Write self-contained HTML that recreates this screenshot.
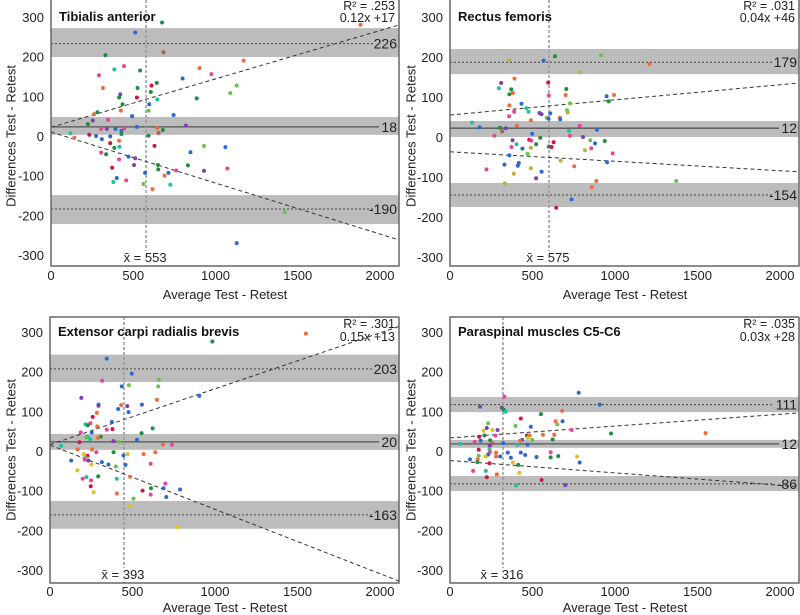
<!DOCTYPE html>
<html><head><meta charset="utf-8"><style>
html,body{margin:0;padding:0;background:#fff}
svg{display:block;font-family:"Liberation Sans",sans-serif}
</style></head><body>
<svg id="c" width="800" height="615" viewBox="0 0 800 615"></svg>
<script>
// ---------- DATA ----------
const colorMap={g:"#1e8f3e",b:"#2a6ad0",o:"#f26a3c",p:"#e8449a",t:"#19c2a0",r:"#d41345",u:"#7b3fb0",l:"#6cc24a",w:"#b06040",v:"#b8b040",y:"#e0c020"};

const tlX=[675,512,1882,331,684,1171,903,385,444,542,975,291,800,643,315,526,611,1129,1090,607,421,886,414,522,646,435,597,425,593,745,493,282,262,254,347,224,820,522,305,339,392,428,444,646,654,680,428,118,142,233,593,274,309,360,414,360,416,629,385,305,335,471,512,930,1060,848,414,505,650,832,652,372,761,930,1072,572,714,690,400,379,457,562,725,617,1421,1129];
const tlY=[286,261,280,204,211,190,171,168,176,165,156,153,145,134,121,121,127,127,108,111,105,95,97,97,92,80,80,64,64,53,50,60,55,39,41,30,26,23,18,18,18,13,19,20,8,15,5,7,-4,3,1,0,-8,-1,-12,-18,-27,-25,-30,-42,-46,-52,-56,-25,-28,-41,-59,-73,-73,-74,-84,-80,-87,-88,-82,-93,-93,-100,-106,-116,-112,-121,-123,-134,-192,-270];
const tlC="gbogwootpg"+"ppbgogrllg"+"uggrtgbolb"+"bgoupgubpu"+"bbpowggtor"+"gbbbortrgp"+"gbulbbpugg"+"grpupbbobt"+"pltolb";

const trX=[915,636,567,360,1209,786,595,310,391,296,371,705,381,360,599,701,949,994,962,727,360,433,462,476,389,709,543,555,608,713,358,585,597,666,668,490,134,786,405,180,304,338,316,721,891,498,269,727,806,547,379,850,480,492,938,879,628,373,403,439,490,599,616,522,856,818,360,470,986,952,670,417,330,411,753,221,490,555,387,522,887,1371,332,859,737,644];
const trY=[205,202,191,192,182,162,136,135,146,122,119,120,110,107,104,105,102,105,89,84,79,83,72,63,63,67,60,57,59,61,52,48,46,48,44,42,36,28,28,24,23,22,14,15,18,8,3,3,0,-2,-8,-8,-7,-9,-10,-16,-13,-25,-18,-29,-27,-24,-25,-18,-28,-33,-46,-42,-41,-63,-59,-65,-69,-72,-73,-81,-78,-87,-92,-103,-110,-110,-116,-125,-156,-177];
const trC="lgbvovruot"+"ggogpobogl"+"obttpluubv"+"pvbobotpob"+"guwtbbppug"+"ulrpgbrptb"+"vgrgpvblpb"+"vbbbopvbvu"+"olvobr";

const blX=[1551,984,344,496,316,660,478,435,656,905,190,648,294,294,557,431,468,413,476,284,259,375,215,245,229,286,379,344,622,253,186,555,308,227,290,219,243,527,385,419,178,684,739,67,168,255,281,385,638,470,445,567,128,227,215,205,211,314,233,354,458,610,399,251,166,292,405,486,198,221,249,699,688,612,788,561,247,265,405,610,705,506,486,772];
const blY=[296,276,233,195,177,180,166,163,163,139,134,129,117,114,117,116,113,106,98,96,86,73,67,70,65,62,55,54,57,47,47,45,36,36,33,34,30,28,25,23,22,16,16,13,4,4,-3,-3,-3,-8,-11,-8,-24,-12,-15,-8,-22,-28,-24,-34,-35,-32,-39,-34,-49,-64,-70,-65,-70,-66,-74,-82,-94,-94,-97,-100,-89,-104,-107,-110,-116,-120,-139,-192];
const blC="ogbbpllblb"+"uobuboubbo"+"rbtpgorpgb"+"pggtoltbul"+"roptoopgoy"+"bobrlypbub"+"bplyygtopt"+"ppbgbrryop"+"blyy";

const brX=[780,330,907,182,314,326,680,338,551,429,682,640,650,231,397,490,223,203,257,288,737,976,1549,209,176,275,466,482,563,632,472,186,243,498,622,437,425,150,257,322,409,470,61,241,239,174,241,610,429,279,241,350,456,231,174,656,215,304,279,369,524,610,770,121,168,166,381,239,786,413,140,217,421,284,223,555,401,699];
const brY=[147,137,117,112,109,104,101,99,93,82,75,75,67,70,63,61,58,51,53,53,53,44,45,39,36,39,39,39,41,41,33,26,27,28,29,28,26,23,19,20,16,16,18,14,5,3,1,-3,-4,-4,-3,-4,-10,-9,-12,-13,-14,-14,-14,-17,-15,-16,-14,-21,-21,-28,-29,-31,-29,-35,-50,-50,-55,-59,-66,-73,-87,-86];
const brC="bpbuugotgr"+"bolllbuyyu"+"pgogrpuooo"+"ybglgbopwb"+"tbtutrlpbo"+"pbbblgybob"+"bgybogyrbg"+"ptyorrtu";

const panelTitles=["Tibialis anterior","Rectus femoris","Extensor carpi radialis brevis","Paraspinal muscles C5-C6"];
const r2Labels=["R² = .253","R² = .031","R² = .301","R² = .035"];
const eqLabels=["0.12x +17","0.04x +46","0.15x +13","0.03x +28"];
const upperBand=[[199,272],[157,220],[174,243],[98,136]];
const meanBand=[[3,48],[0,40],[3,43],[8,28]];
const lowerBand=[[-222,-149],[-175,-115],[-196,-126],[-101,-63]];
const upperLine=[233,187,207,117];
const meanLine=[23,22,23,18];
const lowerLine=[-184,-145,-161,-83];
const upperLabels=["226","179","203","111"];
const meanLabels=["18","12","20","12"];
const lowerLabels=["-190","-154","-163","-86"];
const regUpper=[[22,280],[55,135],[16,314],[33,96]];
const regLower=[[10,-262],[-37,-87],[15,-328],[-24,-90]];
const xMean=[578,600,448,321];
const xMeanLabels=["x̄ = 553","x̄ = 575","x̄ = 393","x̄ = 316"];
const xTicks=[0,500,1000,1500,2000];
const yTicks=[300,200,100,0,-100,-200,-300];
const xTickLabels=["0","500","1000","1500","2000"];
const yTickLabels=["300","200","100","0","-100","-200","-300"];

// ---------- GEOMETRY ----------
const panels=[
 {ox:0,left:51,right:399,top:0,bottom:266,y300:17,ym300:255,xs:0.1645,pts:[tlX,tlY,tlC],name:"tibialis-anterior",tb:14,ab:33},
 {ox:400,left:50,right:399,top:0,bottom:266,y300:17,ym300:257,xs:0.165,pts:[trX,trY,trC],name:"rectus-femoris",tb:14,ab:33},
 {ox:0,left:50,right:399,top:317,bottom:583,y300:332,ym300:570,xs:0.165,pts:[blX,blY,blC],name:"extensor-carpi",tb:13,ab:29},
 {ox:400,left:50,right:399,top:317,bottom:583,y300:332,ym300:570,xs:0.165,pts:[brX,brY,brC],name:"paraspinal",tb:13,ab:29}
];
const NS="http://www.w3.org/2000/svg";
const svg=document.getElementById("c");
function mk(tag,attrs,parent){const e=document.createElementNS(NS,tag);for(const k in attrs)e.setAttribute(k,attrs[k]);(parent||svg).appendChild(e);return e;}

panels.forEach((P,i)=>{
 const g=mk("g",{});
 
 
 const L=P.ox+P.left, R=P.ox+P.right;
 const k=(P.ym300-P.y300)/600, y0=(P.y300+P.ym300)/2;
 const sx=v=>L+v*P.xs;
 const sy=v=>y0-v*k;
 const XMAX=(R-L)/P.xs;
 [[upperBand[i],'upper-limit-band'],[meanBand[i],'mean-band'],[lowerBand[i],'lower-limit-band']].forEach(([b,n])=>{
  const r=mk("rect",{x:L,y:sy(b[1]),width:R-L,height:sy(b[0])-sy(b[1]),fill:"#bcbcbc"},g);
  
  
 });
 const lineEnd=R-26;
 [[upperLine[i],'upper-limit-line'],[lowerLine[i],'lower-limit-line']].forEach(([v,n])=>{
  const l=mk("line",{x1:L,x2:lineEnd,y1:sy(v),y2:sy(v),stroke:"#444","stroke-width":1,"stroke-dasharray":"2,2"},g);
  
  
 });
 const ml=mk("line",{x1:L,x2:R-20,y1:sy(meanLine[i]),y2:sy(meanLine[i]),stroke:"#555","stroke-width":1.3},g);
 
 
 [[upperLabels[i],upperLine[i],'upper-limit-label'],[meanLabels[i],meanLine[i],'mean-label'],[lowerLabels[i],lowerLine[i],'lower-limit-label']].forEach(([t,v,n])=>{
  const tx=mk("text",{x:R-2,y:sy(v)+5,"text-anchor":"end","font-size":14,fill:"#222"},g);
  tx.textContent=t;
  
  
 });
 const vl=mk("line",{x1:sx(xMean[i]),x2:sx(xMean[i]),y1:P.top,y2:P.bottom,stroke:"#999","stroke-width":1.5,"stroke-dasharray":"3,2"},g);
 
 
 const vt=mk("rect",{x:sx(xMean[i])-26,y:P.bottom-15,width:52,height:13,fill:"#fff"},g);
 
 
 const vtx=mk("text",{x:sx(xMean[i])-1,y:P.bottom-4,"text-anchor":"middle","font-size":13,fill:"#222"},g);
 vtx.textContent=xMeanLabels[i];
 
 
 [[regUpper[i],'regression-upper'],[regLower[i],'regression-lower']].forEach(([r,n])=>{
  const l=mk("line",{x1:sx(0),y1:sy(r[0]),x2:sx(XMAX),y2:sy(r[1]),stroke:"#333","stroke-width":1,"stroke-dasharray":"4,3"},g);
  
  
 });
 const [X,Y,C]=P.pts;
 for(let j=0;j<X.length;j++){
  const c=mk("circle",{cx:sx(X[j]),cy:sy(Y[j]),r:2,fill:colorMap[C[j]]||"#2a6ad0"},g);
  
  
 }
 const fr=mk("path",{d:(P.top>0?`M${R},${P.top} L${L},${P.top} `:`M${L},${P.top} `)+`L${L},${P.bottom} L${R},${P.bottom} L${R},${P.top}`,fill:"none",stroke:"#666","stroke-width":1.5},g);
 
 
 yTicks.forEach((v,j)=>{
  const t=mk("text",{x:L-7,y:sy(v)+5,"text-anchor":"end","font-size":13,fill:"#222"},g);
  t.textContent=yTickLabels[j];
  
  
 });
 xTicks.forEach((v,j)=>{
  const t=mk("text",{x:sx(v),y:P.bottom+P.tb,"text-anchor":"middle","font-size":13,fill:"#222"},g);
  t.textContent=xTickLabels[j];
  
  
 });
 const xt=mk("text",{x:P.ox+225,y:P.bottom+P.ab,"text-anchor":"middle","font-size":13,fill:"#222"},g);
 xt.textContent="Average Test - Retest";
 
 
 const ym=(P.top+P.bottom)/2+(P.top>0?0:3);
 const yt=mk("text",{x:P.ox+12,y:ym,"text-anchor":"middle","font-size":13,fill:"#222",transform:`rotate(-90 ${P.ox+12} ${ym})`,"dominant-baseline":"middle"},g);
 yt.textContent="Differences Test - Retest";
 
 
 const tt=mk("text",{x:L+8,y:sy(300)+4,"font-size":13,"font-weight":"bold",fill:"#111"},g);
 tt.textContent=panelTitles[i];
 
 
 const r2=mk("text",{x:R-4,y:P.top+(P.top>0?11:10),"text-anchor":"end","font-size":12.5,fill:"#222"},g);
 r2.textContent=r2Labels[i];
 
 
 const eq=mk("text",{x:R-4,y:P.top+(P.top>0?24:22),"text-anchor":"end","font-size":12.5,fill:"#222"},g);
 eq.textContent=eqLabels[i];
 
 
});
</script>
</body></html>
